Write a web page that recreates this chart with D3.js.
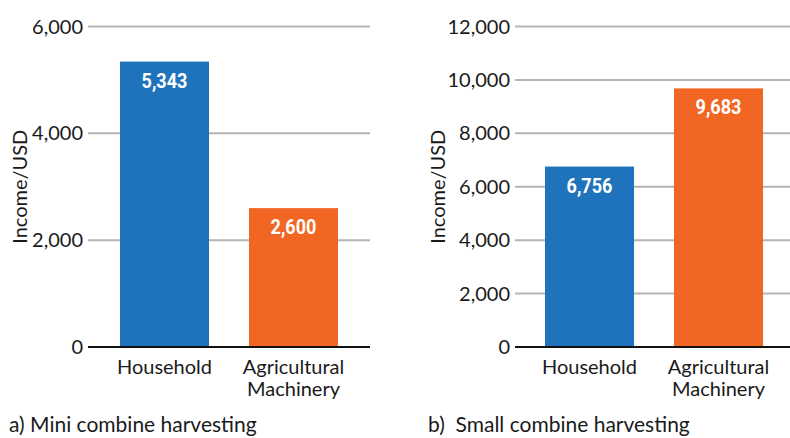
<!DOCTYPE html>
<html>
<head>
<meta charset="utf-8">
<script src="https://cdn.jsdelivr.net/npm/d3@7"></script>
<style>
  html, body { margin: 0; padding: 0; background: #fff; }
  svg { display: block; }
</style>
</head>
<body>
<svg id="chart" width="790" height="438"></svg>
<script>
// ---- Data ----
const categories = ["Household", "Agricultural Machinery"];
const categoryLines = [["Household"], ["Agricultural", "Machinery"]];
const miniValues = [5343, 2600];
const smallValues = [6756, 9683];
const miniTicks = [0, 2000, 4000, 6000];
const smallTicks = [0, 2000, 4000, 6000, 8000, 10000, 12000];
const panelTitles = ["a) Mini combine harvesting", "b)\u00a0 Small combine harvesting"];
const yLabel = "Income/USD";
const barColors = ["#1f73bc", "#f26624"];

const svg = d3.select("#chart");
const fmt = d3.format(",");

const panels = [
  { values: miniValues, ticks: miniTicks, max: 6000, title: panelTitles[0],
    gx0: 88, gx1: 370, bandRange: [100, 358], labelX: 19, titleX: 9 },
  { values: smallValues, ticks: smallTicks, max: 12000, title: panelTitles[1],
    gx0: 515, gx1: 790, bandRange: [525, 783], labelX: 437, titleX: 428 }
];

const yTop = 26.5, yBottom = 347;

panels.forEach(p => {
  const g = svg.append("g");
  const y = d3.scaleLinear().domain([0, p.max]).range([yBottom, yTop]);
  const x = d3.scaleBand().domain(categories).range(p.bandRange)
    .paddingInner(0.31).paddingOuter(0.155);

  // gridlines
  g.selectAll(".grid").data(p.ticks.filter(t => t > 0)).enter().append("line")
    .attr("x1", p.gx0).attr("x2", p.gx1)
    .attr("y1", d => y(d)).attr("y2", d => y(d))
    .attr("stroke", "#b5b5b5").attr("stroke-width", 2);

  // tick labels
  g.selectAll(".tick").data(p.ticks).enter().append("text")
    .attr("x", p.gx0 - 5).attr("y", d => y(d))
    .attr("dy", "0.35em")
    .attr("text-anchor", "end")
    .attr("font-family", "Lato, sans-serif")
    .attr("font-size", 20)
    .attr("fill", "#1a1a1a")
    .text(d => fmt(d));

  // bars
  g.selectAll(".bar").data(p.values).enter().append("rect")
    .attr("x", (d, i) => x(categories[i]))
    .attr("width", x.bandwidth())
    .attr("y", d => y(d))
    .attr("height", d => y(0) - y(d))
    .attr("fill", (d, i) => barColors[i]);

  // zero line
  g.append("line")
    .attr("x1", p.gx0).attr("x2", p.gx1)
    .attr("y1", y(0)).attr("y2", y(0))
    .attr("stroke", "#111").attr("stroke-width", 2);

  // value labels
  g.selectAll(".val").data(p.values).enter().append("text")
    .attr("transform", (d, i) => `translate(${x(categories[i]) + x.bandwidth() / 2},${y(d) + 26}) scale(0.86,1)`)
    .attr("text-anchor", "middle")
    .attr("font-family", "Roboto, sans-serif")
    .attr("font-weight", "bold")
    .attr("font-size", 21)
    .attr("fill", "#fff")
    .text(d => fmt(d));

  // category labels
  categories.forEach((c, i) => {
    const t = g.append("text")
      .attr("x", x(c) + x.bandwidth() / 2)
      .attr("y", 374)
      .attr("text-anchor", "middle")
      .attr("font-family", "Lato, sans-serif")
      .attr("font-size", 20)
      .attr("fill", "#1a1a1a");
    categoryLines[i].forEach((line, k) => {
      t.append("tspan").attr("x", x(c) + x.bandwidth() / 2)
        .attr("dy", k === 0 ? 0 : 22).text(line);
    });
  });

  // y axis label
  g.append("text")
    .attr("transform", `translate(${p.labelX + 8},${(yTop + yBottom) / 2}) rotate(-90)`)
    .attr("text-anchor", "middle")
    .attr("font-family", "Lato, sans-serif")
    .attr("font-size", 20)
    .attr("fill", "#1a1a1a")
    .text(yLabel);

  // panel title
  g.append("text")
    .attr("x", p.titleX).attr("y", 432)
    .attr("font-family", "Lato, sans-serif")
    .attr("font-size", 21)
    .attr("fill", "#1a1a1a")
    .text(p.title);
});
</script>
</body>
</html>
